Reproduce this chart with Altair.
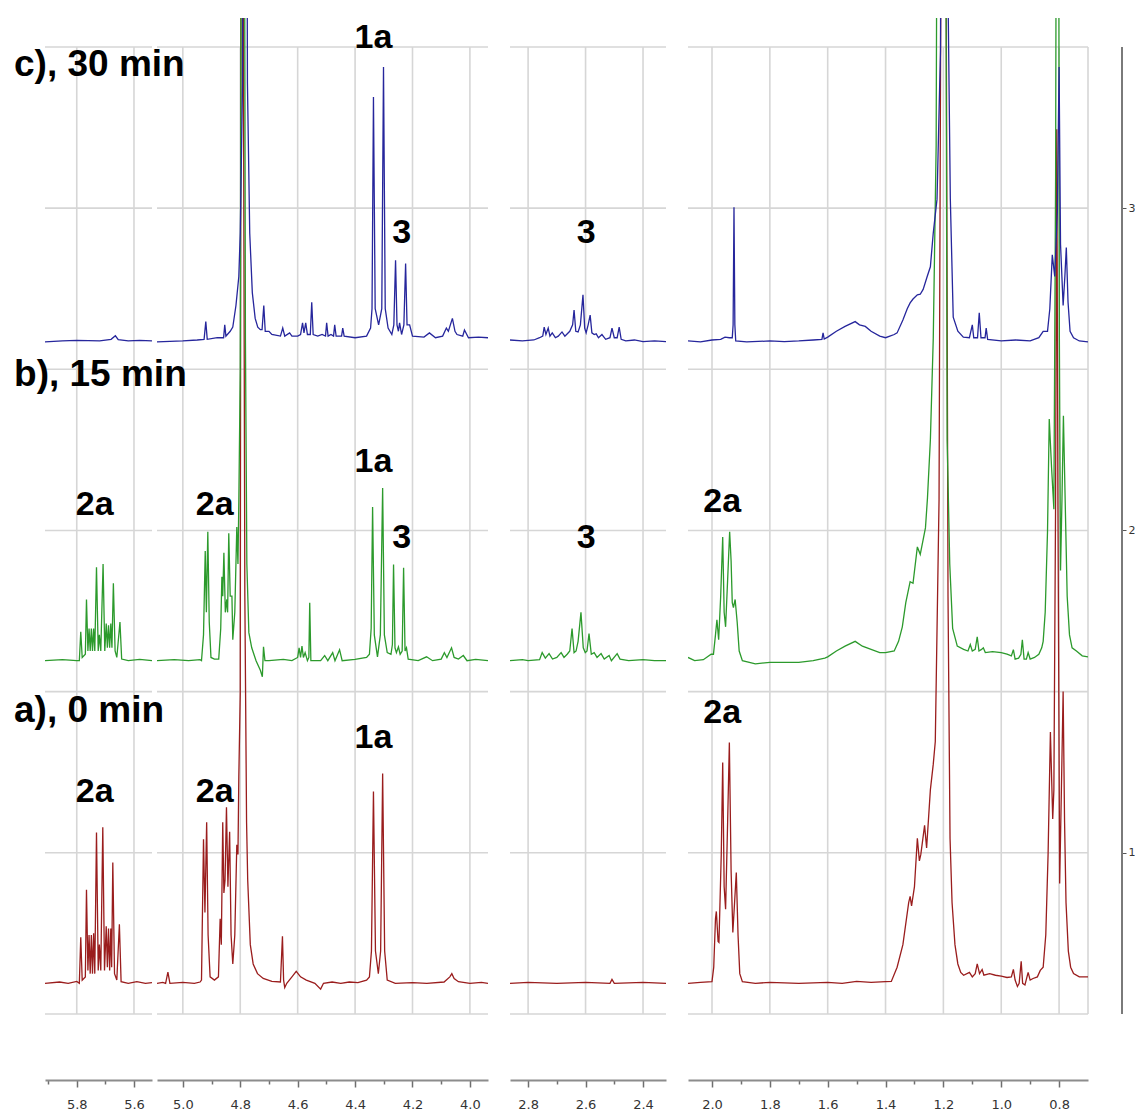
import altair as alt
import pandas as pd

# ---------------- panels of the broken ppm axis ----------------
P_DOMAIN = {"p1": [5.911, 5.537], "p2": [5.09, 3.937], "p3": [2.863, 2.32], "p4": [2.083, 0.70]}
P_WIDTH = {"p1": 107, "p2": 331, "p3": 156, "p4": 400}
Y_DOMAIN = [0.295, 3.59]
PLOT_H = 1062

P1_TICKS = [5.9, 5.8, 5.7, 5.6]
P2_TICKS = [5.0, 4.9, 4.8, 4.7, 4.6, 4.5, 4.4, 4.3, 4.2, 4.1, 4.0]
P3_TICKS = [2.8, 2.7, 2.6, 2.5, 2.4]
P4_TICKS = [2.0, 1.9, 1.8, 1.7, 1.6, 1.5, 1.4, 1.3, 1.2, 1.1, 1.0, 0.9, 0.8]

GRID_X = {
    "p1": [5.8, 5.6],
    "p2": [5.0, 4.8, 4.6, 4.4, 4.2, 4.0],
    "p3": [2.8, 2.6, 2.4],
    "p4": [2.0, 1.8, 1.6, 1.4, 1.2, 1.0, 0.8, 0.70],
}
GRID_Y = [0.5, 1.0, 1.5, 2.0, 2.5, 3.0, 3.5]
Y_TICKS = [1, 2, 3]

# vertical offsets (baselines) of the stacked spectra
OFFSET = {"a": 0.595, "b": 1.596, "c": 2.588}
SERIES = ["a", "b", "c"]
COLORS = ["#9a1d1d", "#2c9a2c", "#26269c"]

# ---------------- spectra: (ppm, intensity above baseline) ----------------
# a) 0 min (red)
RED_P1 = [(5.911, 0.0), (5.86, 0.004), (5.83, 0.0), (5.80, 0.006), (5.791, 0.0), (5.786, 0.143), (5.781, 0.01),
          (5.770, 0.02), (5.766, 0.29), (5.761, 0.04), (5.757, 0.15), (5.753, 0.03), (5.749, 0.15), (5.745, 0.03),
          (5.741, 0.155), (5.737, 0.03), (5.731, 0.468), (5.725, 0.04), (5.721, 0.12), (5.716, 0.04), (5.709, 0.484),
          (5.703, 0.04), (5.697, 0.177), (5.693, 0.05), (5.689, 0.17), (5.685, 0.04), (5.681, 0.17), (5.678, 0.05),
          (5.674, 0.375), (5.668, 0.03), (5.66, 0.01), (5.651, 0.183), (5.645, 0.005), (5.62, 0.0), (5.59, 0.005),
          (5.56, 0.0), (5.537, 0.002)]
RED_P2 = [(5.09, 0.0), (5.07, 0.003), (5.06, 0.0), (5.052, 0.035), (5.045, 0.0), (5.00, 0.003), (4.96, 0.0),
          (4.94, 0.004), (4.935, 0.01), (4.928, 0.447), (4.923, 0.22), (4.917, 0.50), (4.912, 0.15), (4.905, 0.02),
          (4.89, 0.01), (4.876, 0.02), (4.870, 0.20), (4.866, 0.12), (4.861, 0.50), (4.857, 0.28), (4.853, 0.32),
          (4.848, 0.546), (4.843, 0.30), (4.837, 0.47), (4.832, 0.15), (4.826, 0.06), (4.819, 0.15), (4.812, 0.43),
          (4.808, 0.40), (4.805, 0.64), (4.800, 0.9), (4.797, 3.6), (4.791, 3.6), (4.784, 1.2), (4.778, 0.5),
          (4.774, 0.32), (4.765, 0.12), (4.755, 0.06), (4.74, 0.03), (4.72, 0.015), (4.69, 0.006), (4.66, 0.004),
          (4.653, 0.146), (4.649, 0.01), (4.645, -0.013), (4.638, 0.0), (4.62, 0.02), (4.605, 0.037), (4.59, 0.02),
          (4.57, 0.01), (4.54, 0.0), (4.52, -0.018), (4.51, 0.0), (4.48, 0.004), (4.45, 0.0), (4.42, 0.004),
          (4.39, 0.002), (4.36, 0.01), (4.35, 0.02), (4.343, 0.1), (4.336, 0.595), (4.329, 0.1), (4.319, 0.03),
          (4.311, 0.1), (4.304, 0.651), (4.297, 0.1), (4.288, 0.01), (4.26, 0.0), (4.20, 0.002), (4.15, 0.0),
          (4.09, 0.004), (4.07, 0.02), (4.063, 0.03), (4.055, 0.015), (4.04, 0.005), (4.00, 0.0), (3.96, 0.003),
          (3.937, 0.0)]
RED_P3 = [(2.863, 0.0), (2.80, 0.003), (2.70, 0.0), (2.60, 0.003), (2.515, 0.0), (2.508, 0.012), (2.50, 0.0),
          (2.40, 0.003), (2.32, 0.0)]
RED_P4 = [(2.083, 0.0), (2.04, 0.003), (2.00, 0.005), (1.994, 0.05), (1.988, 0.2), (1.985, 0.223), (1.979, 0.13),
          (1.976, 0.127), (1.968, 0.4), (1.963, 0.685), (1.958, 0.3), (1.953, 0.23), (1.946, 0.5), (1.940, 0.747),
          (1.934, 0.35), (1.928, 0.158), (1.922, 0.25), (1.916, 0.344), (1.910, 0.15), (1.904, 0.03), (1.895, 0.005),
          (1.85, 0.0), (1.80, 0.003), (1.70, 0.0), (1.60, 0.003), (1.55, 0.0), (1.50, 0.006), (1.45, 0.003),
          (1.40, 0.005), (1.38, 0.006), (1.36, 0.05), (1.34, 0.12), (1.32, 0.25), (1.315, 0.27), (1.31, 0.24),
          (1.30, 0.30), (1.29, 0.45), (1.283, 0.38), (1.278, 0.40), (1.265, 0.49), (1.258, 0.42), (1.245, 0.6),
          (1.235, 0.68), (1.228, 0.75), (1.215, 1.5), (1.207, 3.6), (1.192, 3.6), (1.184, 1.2), (1.177, 0.45),
          (1.17, 0.25), (1.16, 0.12), (1.15, 0.06), (1.14, 0.034), (1.13, 0.025), (1.11, 0.034), (1.10, 0.02),
          (1.09, 0.03), (1.083, 0.06), (1.075, 0.03), (1.066, 0.043), (1.06, 0.025), (1.04, 0.03), (1.02, 0.025),
          (1.00, 0.022), (0.98, 0.018), (0.965, 0.02), (0.958, 0.043), (0.952, 0.01), (0.944, -0.01), (0.938, 0.0),
          (0.931, 0.068), (0.926, 0.0), (0.918, -0.005), (0.907, 0.034), (0.90, 0.01), (0.89, 0.015), (0.875, 0.02),
          (0.865, 0.04), (0.855, 0.05), (0.846, 0.15), (0.838, 0.4), (0.830, 0.78), (0.822, 0.51), (0.818, 0.6),
          (0.812, 1.5), (0.808, 2.65), (0.804, 1.5), (0.798, 0.31), (0.792, 0.6), (0.786, 0.905), (0.781, 0.5),
          (0.776, 0.25), (0.768, 0.1), (0.76, 0.05), (0.75, 0.03), (0.73, 0.02), (0.70, 0.02)]

# b) 15 min (green)
GREEN_P1 = [(5.911, 0.0), (5.85, 0.003), (5.80, 0.0), (5.791, 0.0), (5.786, 0.09), (5.781, 0.01), (5.770, 0.02),
            (5.766, 0.19), (5.761, 0.03), (5.757, 0.10), (5.753, 0.03), (5.749, 0.10), (5.745, 0.03), (5.741, 0.10),
            (5.737, 0.03), (5.731, 0.29), (5.725, 0.03), (5.721, 0.08), (5.716, 0.03), (5.708, 0.30), (5.702, 0.03),
            (5.697, 0.115), (5.693, 0.04), (5.689, 0.11), (5.685, 0.04), (5.681, 0.115), (5.677, 0.04), (5.672, 0.24),
            (5.666, 0.03), (5.66, 0.01), (5.649, 0.12), (5.643, 0.005), (5.62, 0.0), (5.58, 0.004), (5.537, 0.0)]
GREEN_P2 = [(5.09, 0.0), (5.03, 0.003), (4.98, 0.0), (4.94, 0.003), (4.935, 0.0), (4.928, 0.08), (4.922, 0.34),
            (4.918, 0.15), (4.913, 0.40), (4.908, 0.12), (4.902, 0.01), (4.89, 0.005), (4.875, 0.005), (4.868, 0.1),
            (4.864, 0.26), (4.861, 0.2), (4.857, 0.335), (4.852, 0.15), (4.847, 0.19), (4.844, 0.15), (4.840, 0.395),
            (4.835, 0.2), (4.829, 0.2), (4.826, 0.065), (4.819, 0.15), (4.812, 0.415), (4.808, 0.3), (4.805, 0.49),
            (4.800, 0.9), (4.794, 3.6), (4.788, 3.6), (4.782, 1.0), (4.777, 0.3), (4.77, 0.087), (4.76, 0.04),
            (4.745, 0.0), (4.73, -0.03), (4.723, -0.05), (4.719, 0.043), (4.714, 0.0), (4.70, 0.0), (4.65, 0.004),
            (4.62, 0.0), (4.60, 0.01), (4.595, 0.04), (4.59, 0.01), (4.585, 0.045), (4.58, 0.01), (4.574, 0.025),
            (4.566, 0.0), (4.561, 0.01), (4.558, 0.18), (4.554, 0.0), (4.52, 0.0), (4.506, 0.016), (4.495, 0.0),
            (4.478, 0.025), (4.47, 0.0), (4.454, 0.034), (4.445, 0.0), (4.40, 0.004), (4.36, 0.01), (4.35, 0.02),
            (4.344, 0.1), (4.339, 0.477), (4.333, 0.08), (4.322, 0.012), (4.312, 0.08), (4.304, 0.536), (4.298, 0.08),
            (4.288, 0.025), (4.275, 0.02), (4.270, 0.05), (4.266, 0.298), (4.261, 0.04), (4.256, 0.025), (4.249, 0.043),
            (4.243, 0.02), (4.236, 0.03), (4.231, 0.288), (4.226, 0.03), (4.221, 0.04), (4.215, 0.005), (4.18, 0.0),
            (4.151, 0.012), (4.13, 0.0), (4.10, 0.005), (4.089, 0.025), (4.08, 0.01), (4.064, 0.04), (4.055, 0.01),
            (4.04, 0.005), (4.023, 0.016), (4.01, 0.0), (3.98, 0.004), (3.937, 0.0)]
GREEN_P3 = [(2.863, 0.0), (2.82, 0.003), (2.80, 0.0), (2.76, 0.003), (2.751, 0.025), (2.74, 0.008), (2.727, 0.022),
            (2.715, 0.005), (2.70, 0.01), (2.685, 0.025), (2.675, 0.01), (2.664, 0.02), (2.655, 0.03), (2.647, 0.10),
            (2.64, 0.025), (2.633, 0.03), (2.626, 0.06), (2.616, 0.15), (2.608, 0.04), (2.601, 0.025), (2.595, 0.03),
            (2.588, 0.084), (2.58, 0.02), (2.57, 0.025), (2.56, 0.01), (2.546, 0.022), (2.535, 0.005), (2.518, 0.016),
            (2.51, 0.0), (2.49, 0.022), (2.48, 0.005), (2.45, 0.0), (2.40, 0.003), (2.36, 0.0), (2.32, 0.0)]
GREEN_P4 = [(2.083, 0.01), (2.06, 0.0), (2.03, 0.003), (2.003, 0.02), (1.995, 0.02), (1.988, 0.08), (1.983, 0.127),
            (1.977, 0.065), (1.970, 0.2), (1.963, 0.384), (1.958, 0.15), (1.953, 0.105), (1.946, 0.25), (1.939, 0.40),
            (1.934, 0.31), (1.930, 0.18), (1.926, 0.165), (1.920, 0.19), (1.913, 0.12), (1.906, 0.03), (1.895, 0.0),
            (1.85, -0.01), (1.80, -0.005), (1.70, -0.005), (1.65, 0.0), (1.61, 0.008), (1.60, 0.012), (1.57, 0.03),
            (1.54, 0.045), (1.505, 0.06), (1.48, 0.045), (1.45, 0.035), (1.42, 0.025), (1.40, 0.025), (1.37, 0.03),
            (1.355, 0.06), (1.342, 0.105), (1.33, 0.18), (1.315, 0.245), (1.305, 0.24), (1.29, 0.353), (1.28, 0.33),
            (1.262, 0.412), (1.255, 0.505), (1.245, 0.685), (1.235, 1.0), (1.225, 1.6), (1.218, 3.6), (1.195, 3.6),
            (1.187, 0.685), (1.178, 0.3), (1.168, 0.1), (1.152, 0.045), (1.13, 0.035), (1.115, 0.03), (1.107, 0.05),
            (1.10, 0.03), (1.09, 0.035), (1.083, 0.074), (1.077, 0.03), (1.068, 0.035), (1.062, 0.04), (1.055, 0.025),
            (1.03, 0.028), (1.00, 0.025), (0.98, 0.02), (0.965, 0.015), (0.958, 0.034), (0.952, 0.005), (0.94, 0.008),
            (0.932, 0.02), (0.927, 0.065), (0.921, 0.005), (0.913, 0.005), (0.907, 0.025), (0.90, 0.005),
            (0.885, 0.01), (0.87, 0.02), (0.86, 0.04), (0.855, 0.06), (0.848, 0.15), (0.84, 0.4), (0.834, 0.75),
            (0.826, 0.6), (0.818, 0.47), (0.812, 1.5), (0.807, 3.6), (0.803, 3.6), (0.799, 1.0), (0.795, 0.28),
            (0.79, 0.5), (0.785, 0.76), (0.779, 0.5), (0.772, 0.2), (0.764, 0.08), (0.755, 0.04), (0.74, 0.03),
            (0.72, 0.015), (0.70, 0.012)]

# c) 30 min (blue)
BLUE_P1 = [(5.911, -0.003), (5.85, 0.0), (5.80, 0.002), (5.72, 0.0), (5.68, 0.005), (5.665, 0.016), (5.655, 0.004),
           (5.62, 0.0), (5.58, 0.002), (5.537, 0.0)]
BLUE_P2 = [(5.09, -0.003), (5.00, 0.0), (4.95, 0.003), (4.926, 0.005), (4.92, 0.06), (4.915, 0.005), (4.88, 0.01),
           (4.858, 0.01), (4.854, 0.05), (4.85, 0.015), (4.835, 0.03), (4.826, 0.043), (4.815, 0.11), (4.805, 0.2),
           (4.80, 0.335), (4.792, 0.8), (4.788, 3.6), (4.782, 3.6), (4.775, 0.8), (4.767, 0.335), (4.758, 0.15),
           (4.748, 0.07), (4.739, 0.043), (4.73, 0.035), (4.724, 0.035), (4.718, 0.11), (4.713, 0.03), (4.70, 0.03),
           (4.69, 0.02), (4.66, 0.015), (4.652, 0.04), (4.645, 0.015), (4.628, 0.025), (4.62, 0.015), (4.60, 0.015),
           (4.59, 0.02), (4.583, 0.056), (4.578, 0.025), (4.572, 0.056), (4.566, 0.02), (4.556, 0.02), (4.551, 0.12),
           (4.546, 0.02), (4.53, 0.015), (4.515, 0.02), (4.503, 0.015), (4.499, 0.056), (4.494, 0.015),
           (4.484, 0.02), (4.475, 0.015), (4.471, 0.05), (4.466, 0.015), (4.447, 0.015), (4.443, 0.04),
           (4.438, 0.015), (4.40, 0.01), (4.36, 0.015), (4.346, 0.04), (4.341, 0.1), (4.336, 0.757), (4.330, 0.1),
           (4.318, 0.05), (4.307, 0.1), (4.301, 0.85), (4.295, 0.1), (4.285, 0.04), (4.272, 0.02), (4.265, 0.05),
           (4.259, 0.25), (4.254, 0.05), (4.249, 0.03), (4.245, 0.056), (4.238, 0.02), (4.230, 0.05), (4.224, 0.24),
           (4.219, 0.05), (4.21, 0.05), (4.20, 0.015), (4.16, 0.012), (4.141, 0.025), (4.12, 0.01), (4.095, 0.015),
           (4.082, 0.04), (4.075, 0.03), (4.061, 0.07), (4.052, 0.03), (4.045, 0.02), (4.025, 0.015), (4.019, 0.034),
           (4.005, 0.01), (3.97, 0.012), (3.937, 0.01)]
BLUE_P3 = [(2.863, 0.003), (2.82, 0.0), (2.78, 0.003), (2.76, 0.01), (2.749, 0.015), (2.744, 0.043), (2.738, 0.02),
           (2.730, 0.04), (2.724, 0.015), (2.716, 0.025), (2.705, 0.01), (2.695, 0.015), (2.682, 0.028),
           (2.672, 0.015), (2.655, 0.03), (2.645, 0.05), (2.640, 0.096), (2.634, 0.03), (2.626, 0.028), (2.618, 0.05),
           (2.609, 0.143), (2.603, 0.04), (2.598, 0.025), (2.591, 0.05), (2.584, 0.08), (2.578, 0.025), (2.570, 0.02),
           (2.563, 0.022), (2.555, 0.01), (2.543, 0.02), (2.53, 0.005), (2.515, 0.01), (2.508, 0.04), (2.50, 0.01),
           (2.49, 0.01), (2.483, 0.043), (2.476, 0.005), (2.46, 0.0), (2.43, 0.003), (2.40, -0.002), (2.36, 0.0),
           (2.32, -0.002)]
BLUE_P4 = [(2.083, 0.0), (2.04, -0.003), (2.00, 0.003), (1.97, 0.005), (1.955, 0.012), (1.94, 0.01), (1.93, 0.01),
           (1.927, 0.05), (1.924, 0.415), (1.921, 0.05), (1.918, 0.0), (1.88, -0.003), (1.80, 0.0), (1.75, -0.002),
           (1.70, 0.0), (1.65, 0.003), (1.62, 0.005), (1.616, 0.025), (1.612, 0.006), (1.60, 0.012), (1.57, 0.03),
           (1.54, 0.045), (1.505, 0.06), (1.49, 0.05), (1.47, 0.045), (1.45, 0.03), (1.42, 0.015), (1.40, 0.01),
           (1.385, 0.015), (1.37, 0.02), (1.36, 0.025), (1.34, 0.065), (1.325, 0.1), (1.315, 0.118), (1.305, 0.13),
           (1.29, 0.143), (1.28, 0.145), (1.27, 0.16), (1.256, 0.2), (1.245, 0.23), (1.235, 0.335), (1.222, 0.44),
           (1.21, 0.9), (1.202, 3.6), (1.19, 3.6), (1.183, 1.0), (1.176, 0.44), (1.166, 0.074), (1.15, 0.03),
           (1.131, 0.012), (1.11, 0.01), (1.10, 0.05), (1.095, 0.01), (1.082, 0.01), (1.076, 0.087), (1.07, 0.01),
           (1.056, 0.01), (1.052, 0.04), (1.047, 0.005), (1.00, 0.0), (0.95, 0.003), (0.90, 0.0), (0.87, 0.01),
           (0.855, 0.03), (0.84, 0.03), (0.832, 0.1), (0.8235, 0.267), (0.815, 0.2), (0.806, 0.4), (0.800, 0.85),
           (0.795, 0.3), (0.786, 0.11), (0.780, 0.2), (0.775, 0.29), (0.769, 0.12), (0.762, 0.03), (0.75, 0.01),
           (0.73, 0.0), (0.70, -0.003)]

SPECTRA = {
    ("a", "p1"): RED_P1, ("a", "p2"): RED_P2, ("a", "p3"): RED_P3, ("a", "p4"): RED_P4,
    ("b", "p1"): GREEN_P1, ("b", "p2"): GREEN_P2, ("b", "p3"): GREEN_P3, ("b", "p4"): GREEN_P4,
    ("c", "p1"): BLUE_P1, ("c", "p2"): BLUE_P2, ("c", "p3"): BLUE_P3, ("c", "p4"): BLUE_P4,
}

# peak annotations: (panel, ppm, y, text)
PEAK_LABELS = [
    ("p2", 4.336, 3.497, "1a"), ("p2", 4.238, 2.892, "3"), ("p3", 2.598, 2.892, "3"),
    ("p1", 5.737, 2.049, "2a"), ("p2", 4.889, 2.049, "2a"), ("p2", 4.336, 2.182, "1a"),
    ("p2", 4.238, 1.947, "3"), ("p3", 2.598, 1.947, "3"), ("p4", 1.965, 2.058, "2a"),
    ("p1", 5.737, 1.159, "2a"), ("p2", 4.889, 1.159, "2a"), ("p2", 4.336, 1.326, "1a"),
    ("p4", 1.965, 1.404, "2a"),
]
# time labels, placed (in ppm of the second panel's scale) left of that panel so they overlay panel 1
TIME_LABELS = [("p2", 5.588, 3.410, "c), 30 min"), ("p2", 5.588, 2.449, "b), 15 min"),
               ("p2", 5.588, 1.407, "a), 0 min")]

# ---------------- tables ----------------
rows = []
for (s, p), pts in SPECTRA.items():
    for i, (ppm, v) in enumerate(pts):
        rows.append({"panel": p, "series": s, "idx": i, "ppm": ppm, "y": OFFSET[s] + v})
spec_df = pd.DataFrame(rows)
peak_df = pd.DataFrame(PEAK_LABELS, columns=["panel", "ppm", "y", "text"])
time_df = pd.DataFrame(TIME_LABELS, columns=["panel", "ppm", "y", "text"])
hgrid_df = pd.DataFrame({"y": GRID_Y})

GRID_COLOR = "#d6d6d6"
MAJOR = "abs(datum.value*5 - round(datum.value*5)) < 0.001"


def build_panel(pid, ticks, show_y=False):
    xscale = alt.Scale(domain=P_DOMAIN[pid], nice=False, zero=False)
    yscale = alt.Scale(domain=Y_DOMAIN, nice=False, zero=False)
    xaxis = alt.Axis(values=ticks, title=None, grid=False, labelFlush=False, labelOverlap=False,
                     labelExpr=f"{MAJOR} ? format(datum.value, '.1f') : ''",
                     tickSize={"condition": {"test": MAJOR, "value": 7}, "value": 4},
                     domainColor="#8c8c8c", domainWidth=2, tickColor="#6e6e6e", tickWidth=1.5,
                     labelFont="DejaVu Sans", labelFontSize=13, labelColor="#333333", labelPadding=11)
    if show_y:
        yaxis = alt.Axis(orient="right", offset=34, values=Y_TICKS, format="d", domain=False, grid=False,
                         title=None, tickSize=4, tickColor="#555555", labelFont="DejaVu Sans",
                         labelFontSize=11, labelColor="#333333", labelPadding=2)
    else:
        yaxis = None
    X = alt.X("ppm:Q", scale=xscale, axis=xaxis)
    Y = alt.Y("y:Q", scale=yscale, axis=yaxis)

    hgrid = alt.Chart(hgrid_df).mark_rule(color=GRID_COLOR, strokeWidth=1.6).encode(y=Y)
    vgrid_df = pd.DataFrame({"ppm": GRID_X[pid], "y": 0.5, "y2": 3.5})
    vgrid = alt.Chart(vgrid_df).mark_rule(color=GRID_COLOR, strokeWidth=1.6).encode(x=X, y=Y, y2="y2:Q")
    lines = alt.Chart(spec_df[spec_df.panel == pid]).mark_line(clip=True, strokeWidth=1.3).encode(
        x=X, y=Y,
        color=alt.Color("series:N", scale=alt.Scale(domain=SERIES, range=COLORS), legend=None),
        detail="series:N",
        order="idx:Q",
    )
    labels = alt.Chart(peak_df[peak_df.panel == pid]).mark_text(
        font="Liberation Sans", fontSize=34, fontWeight="bold", color="#000000", align="center",
        baseline="alphabetic").encode(x=X, y=Y, text="text:N")
    layers = [hgrid, vgrid, lines, labels]
    tsub = time_df[time_df.panel == pid]
    if len(tsub):
        tl = alt.Chart(tsub).mark_text(
            font="Liberation Sans", fontSize=37, fontWeight="bold", color="#000000", align="left",
            baseline="alphabetic").encode(x=X, y=Y, text="text:N")
        layers.append(tl)
    if show_y:
        ax_df = pd.DataFrame({"y": [0.5], "y2": [3.5]})
        axline = alt.Chart(ax_df).mark_rule(color="#7a7a7a", strokeWidth=2).encode(
            x=alt.value(P_WIDTH[pid] + 34), y=Y, y2="y2:Q")
        layers.append(axline)
    return alt.layer(*layers).properties(width=P_WIDTH[pid], height=PLOT_H)


p1 = build_panel("p1", P1_TICKS)
p2 = build_panel("p2", P2_TICKS)
p3 = build_panel("p3", P3_TICKS)
p4 = build_panel("p4", P4_TICKS, show_y=True)

left = alt.hconcat(p1, p2, spacing=5, bounds="flush").resolve_scale(x="independent", y="independent")
chart = alt.hconcat(left, p3, p4, spacing=20).resolve_scale(x="independent", y="independent")
chart = chart.properties(
    padding={"left": 6, "top": 10, "right": 0, "bottom": 0},
    background="#ffffff",
).configure_view(stroke=None)

chart.save("out.html", embed_options={"renderer": "svg", "actions": False})
